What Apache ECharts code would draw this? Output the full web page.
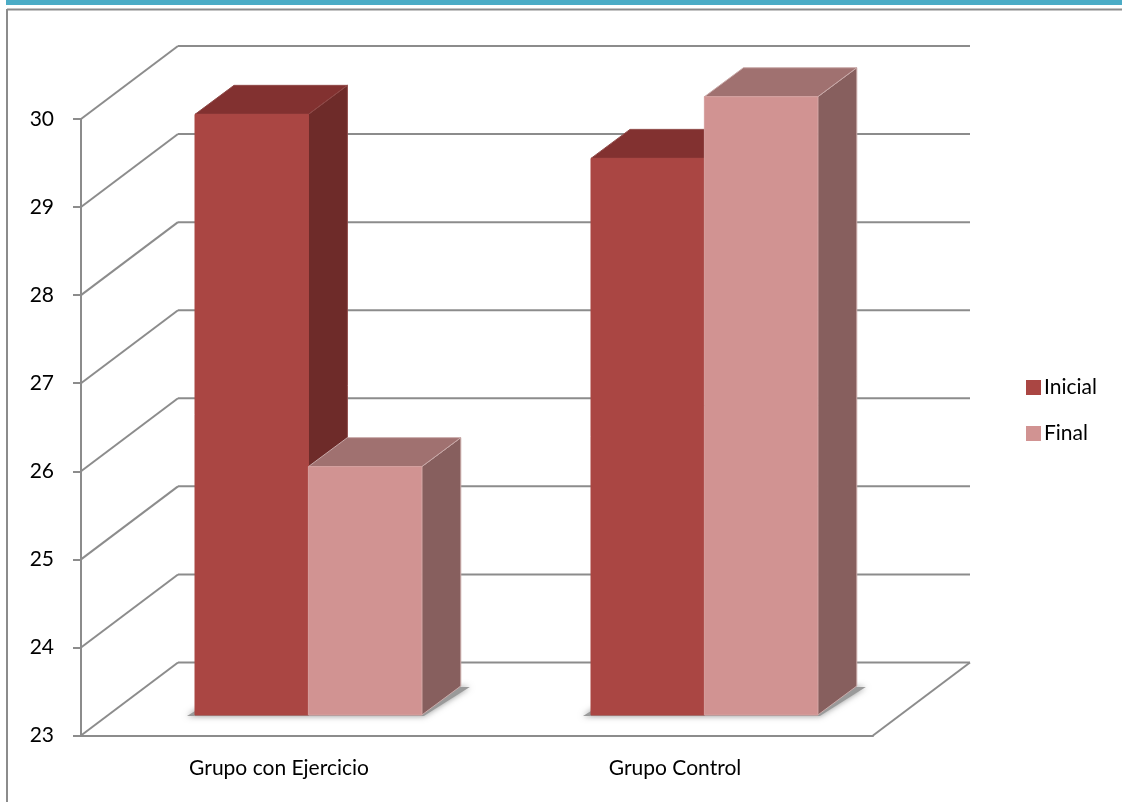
<!DOCTYPE html>
<html>
<head>
<meta charset="utf-8">
<style>html,body{margin:0;padding:0;background:#fff}#chart{width:1122px;height:802px}</style>
<script src="https://cdn.jsdelivr.net/npm/echarts@6/dist/echarts.min.js"></script>
</head>
<body>
<div id="chart"></div>
<script>
const categories = ['Grupo con Ejercicio', 'Grupo Control'];
const inicial = [29.82, 29.32];
const final = [25.82, 30.02];
const yTicks = [23, 24, 25, 26, 27, 28, 29, 30];
const AXIS_MIN = 23;
const AXIS_MAX = 30;

// Oblique projection of the 3D box: wall depth, bar depth and bar inset from the front edge.
const WALL_DX = 97, WALL_DY = 73;
const BAR_DX = 39, BAR_DY = 29;
const INSET_DX = 29.4, INSET_DY = 20.5;
const BAR_W = 113.4;

const GRID_COLOR = '#8c8c8c';
const LABEL_FONT = 'Lato, Carlito, "Open Sans", sans-serif';

const poly = (points, fill, stroke) => ({
  type: 'polygon',
  shape: { points },
  style: { fill, stroke: stroke || fill, lineWidth: 1 },
  silent: true
});

// One bar: front face, top face and right side face.
function boxRenderer(side, colors) {
  return (params, api) => {
    const i = api.value(0);
    const base = api.coord([i, AXIS_MIN]);
    const top = api.coord([i, api.value(1)]);
    const x0 = base[0] + INSET_DX + (side < 0 ? -BAR_W : 0);
    const x1 = x0 + BAR_W;
    const yb = base[1] - INSET_DY;
    const yt = top[1] - INSET_DY;
    return {
      type: 'group',
      children: [
        poly([[x1, yb], [x1 + BAR_DX, yb - BAR_DY], [x1 + BAR_DX, yt - BAR_DY], [x1, yt]], colors.side, colors.edge),
        poly([[x0, yt], [x1, yt], [x1 + BAR_DX, yt - BAR_DY], [x0 + BAR_DX, yt - BAR_DY]], colors.top, colors.edge),
        poly([[x0, yb], [x1, yb], [x1, yt], [x0, yt]], colors.front, colors.frontEdge)
      ]
    };
  };
}

// Side wall and back wall rule for one axis value; the lowest value also closes the floor.
function wallRenderer(params, api) {
  const v = api.value(1);
  const p0 = api.coord([0, v]);
  const p1 = api.coord([1, v]);
  const band = p1[0] - p0[0];
  const left = p0[0] - band / 2;
  const right = p1[0] + band / 2;
  const line = (a, b) => ({
    type: 'line',
    shape: { x1: a[0], y1: a[1], x2: b[0], y2: b[1] },
    style: { stroke: GRID_COLOR, lineWidth: 2 },
    silent: true
  });
  const y = p0[1];
  const children = [
    line([left, y], [left + WALL_DX, y - WALL_DY]),
    line([left + WALL_DX, y - WALL_DY], [right + WALL_DX, y - WALL_DY])
  ];
  if (v === AXIS_MIN) children.push(line([right, y], [right + WALL_DX, y - WALL_DY]));
  return { type: 'group', children };
}

// Soft shadow the pair of bars throws on the floor.
function shadowRenderer(params, api) {
  const base = api.coord([api.value(0), AXIS_MIN]);
  const cx = base[0] + INSET_DX;
  const yb = base[1] - INSET_DY;
  return {
    type: 'polygon',
    shape: { points: [
      [cx - BAR_W - 8, yb + 1],
      [cx + BAR_W + 2, yb + 1],
      [cx + BAR_W + BAR_DX + 9, yb - BAR_DY + 1],
      [cx - BAR_W + BAR_DX, yb - BAR_DY + 1]
    ] },
    style: { fill: '#9a9a9a', shadowBlur: 6, shadowColor: 'rgba(120,120,120,0.8)' },
    silent: true
  };
}

const inicialColors = { front: '#aa4643', frontEdge: '#aa4643', top: '#823130', side: '#6e2b29', edge: '#8f4a48' };
const finalColors = { front: '#d19392', frontEdge: '#d6a09f', top: '#a07170', side: '#875f5e', edge: '#c9aaa9' };

const chart = echarts.init(document.getElementById('chart'), null, { renderer: 'canvas' });
chart.setOption({
  animation: false,
  backgroundColor: '#ffffff',
  textStyle: { fontFamily: LABEL_FONT },
  grid: { left: 81, top: 119, width: 792, height: 616.5 },
  legend: {
    orient: 'vertical',
    left: 1021,
    top: 372,
    itemWidth: 15,
    itemHeight: 15,
    itemGap: 25,
    icon: 'rect',
    selectedMode: false,
    data: ['Inicial', 'Final'],
    textStyle: { color: '#000', fontSize: 21, fontFamily: LABEL_FONT, padding: [0, 0, 0, -2] }
  },
  xAxis: {
    type: 'category',
    data: categories,
    axisLine: { lineStyle: { color: GRID_COLOR, width: 2 } },
    axisTick: { alignWithLabel: false, length: 6, lineStyle: { color: GRID_COLOR, width: 2 } },
    axisLabel: { color: '#000', fontSize: 21, margin: 22, fontFamily: LABEL_FONT },
    splitLine: { show: false }
  },
  yAxis: {
    type: 'value',
    min: AXIS_MIN,
    max: AXIS_MAX,
    interval: 1,
    axisLine: { show: true, lineStyle: { color: GRID_COLOR, width: 2 } },
    axisTick: { show: true, length: 8, lineStyle: { color: GRID_COLOR, width: 2 } },
    axisLabel: { color: '#000', fontSize: 21, margin: 27, fontFamily: LABEL_FONT },
    splitLine: { show: false }
  },
  series: [
    { name: 'wall', type: 'custom', z: 1, silent: true, renderItem: wallRenderer, data: yTicks.map(v => [0, v]) },
    { name: 'floor', type: 'custom', z: 1, silent: true, renderItem: shadowRenderer, data: categories.map((c, i) => [i, AXIS_MIN]) },
    { name: 'Inicial', type: 'custom', z: 3, clip: false, silent: true, itemStyle: { color: inicialColors.front }, renderItem: boxRenderer(-1, inicialColors), data: inicial.map((v, i) => [i, v]) },
    { name: 'Final', type: 'custom', z: 4, clip: false, silent: true, itemStyle: { color: finalColors.front }, renderItem: boxRenderer(1, finalColors), data: final.map((v, i) => [i, v]) }
  ],
  // Page furniture: teal band along the top and the frame's top and left rules.
  graphic: [
    { type: 'rect', silent: true, shape: { x: 6, y: 0, width: 1116, height: 5 }, style: { fill: '#4bacc6' } },
    { type: 'line', silent: true, shape: { x1: 7, y1: 9.5, x2: 1122, y2: 9.5 }, style: { stroke: GRID_COLOR, lineWidth: 2 } },
    { type: 'line', silent: true, shape: { x1: 7, y1: 9, x2: 7, y2: 802 }, style: { stroke: GRID_COLOR, lineWidth: 2 } }
  ]
});
</script>
</body>
</html>
